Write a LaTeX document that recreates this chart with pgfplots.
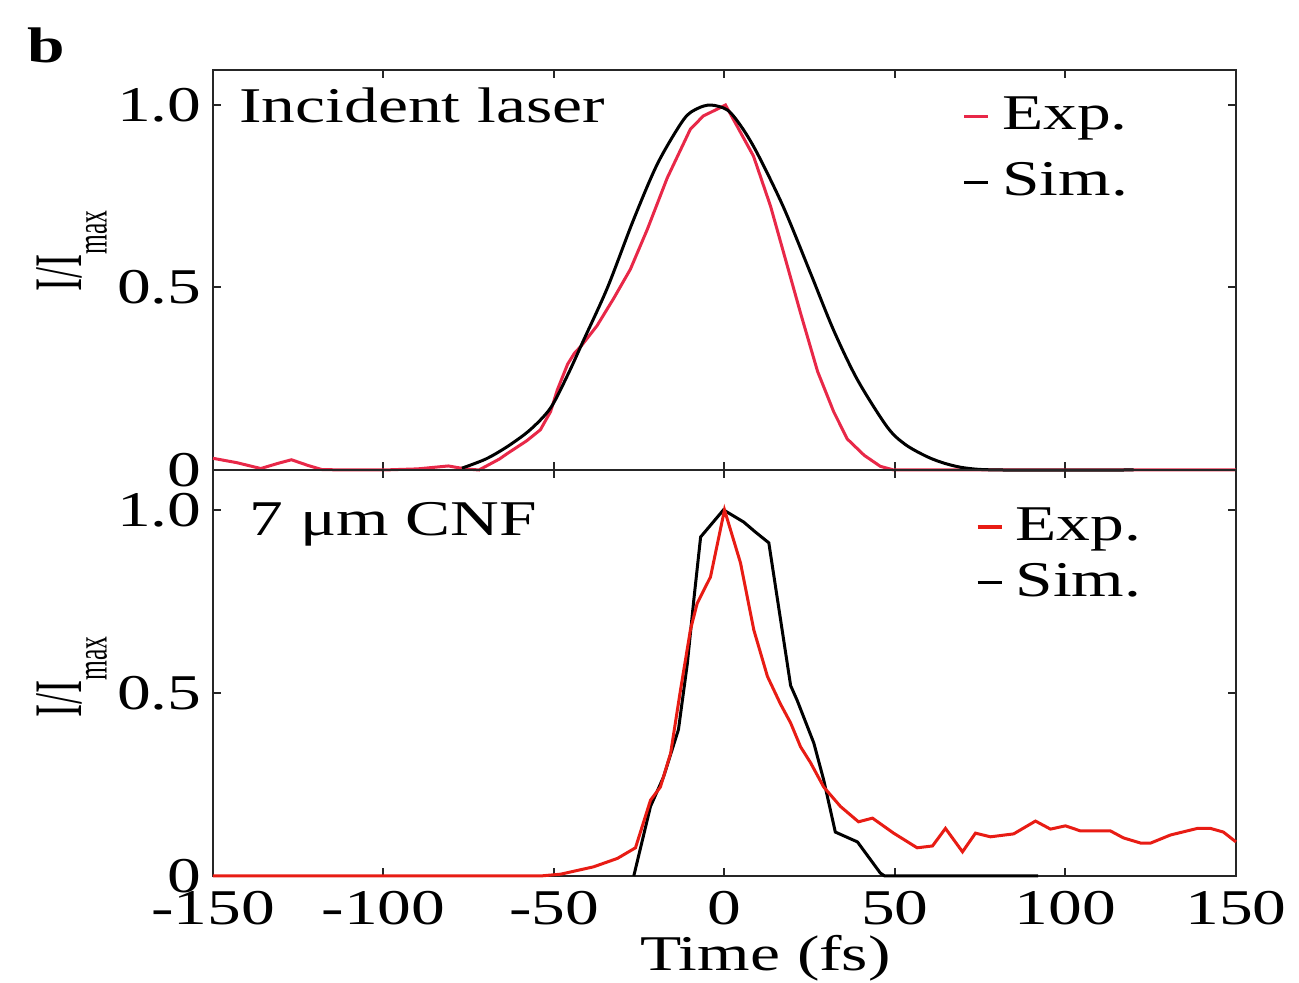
\documentclass[border=0pt]{standalone}
\usepackage{fontspec}
\setmainfont[FakeStretch=1.35]{Liberation Serif}
\newfontfamily\ylfont[FakeStretch=0.58]{Liberation Serif}
\usepackage{pgfplots}
\pgfplotsset{compat=1.18}
\definecolor{expA}{RGB}{232,40,72}
\definecolor{expB}{RGB}{232,28,20}
\newcommand{\lblfont}{\fontsize{12.5}{14}\selectfont}
\newcommand{\ylab}{{\ylfont\fontsize{17}{18}\selectfont I/I}\raisebox{-6.25pt}{\ylfont\fontsize{11}{12}\selectfont max}}
\begin{document}
\begin{tikzpicture}
\useasboundingbox (0,0) rectangle (324.75pt,245.75pt);
\pgfplotsset{
  common/.style={
    scale only axis, width=255.75pt,
    xmin=-150, xmax=150, ymin=0,
    xtick={-150,-100,-50,0,50,100,150},
    ytick={0,0.5,1}, yticklabels={0,0.5,1.0},
    tick align=inside, major tick length=2pt,
    axis line style={line width=0.6pt, black!85},
    every tick/.style={black!85, line width=0.5pt},
    tick label style={font=\lblfont, inner sep=0.5pt},
    yticklabel style={xshift=-2.2pt},
    xticklabel style={yshift=-3.2pt},
    label style={font=\lblfont},
    /pgf/number format/assume math mode=true,
    clip=false,
    legend style={draw=none, fill=none, font=\lblfont, inner sep=0pt,
      nodes={inner sep=0.6pt}},
    legend cell align=left,
    legend image code/.code={\draw[##1, line width=0.8pt] (0pt,0pt) -- (6pt,0pt);},
  }
}
% ---------------- top panel ----------------
\begin{axis}[common, at={(53.25pt,128.25pt)}, anchor=south west,
  height=100pt, ymax=1.096, xticklabels={},
  ylabel={\ylab},
  ylabel style={at={(axis description cs:-0.138,0.5475)}, anchor=center, inner sep=0pt},
  legend style={at={(axis description cs:0.732,0.94)}, anchor=north west,
    row sep=5.5pt, column sep=2.5pt}]
\addplot[expA, line width=0.75pt] coordinates {
(-150,0.032) (-143,0.02) (-136,0.004) (-131,0.018) (-127,0.028) (-122,0.012)
(-118,0.001) (-110,0.0) (-100,0.0) (-90,0.003) (-81,0.011) (-76,0.003)
(-72,0.0) (-70,0.01) (-66,0.03) (-63.7,0.045) (-58,0.08) (-54,0.11)
(-51,0.16) (-49,0.22) (-46,0.29) (-44,0.32) (-42,0.34) (-37.4,0.395)
(-32.5,0.47) (-27.6,0.55) (-22.6,0.66) (-16.8,0.80) (-10,0.934) (-6.2,0.97)
(0.3,1.0) (8.5,0.86) (13.5,0.723) (18.4,0.56) (22.3,0.43) (27.3,0.27)
(32,0.16) (36,0.085) (41,0.04) (45.7,0.01) (49.6,0) (150,0)
};
\addplot[black, line width=0.75pt, smooth, tension=0.5] coordinates {
(-77,0.005) (-70,0.03) (-63.7,0.064) (-57,0.11) (-51,0.17) (-46,0.26)
(-41.3,0.356) (-34.3,0.50) (-26.7,0.685) (-19.6,0.84) (-12,0.96) (-8,0.99)
(-4,1.0) (0.9,0.986) (5,0.94) (9.6,0.868) (17.3,0.72) (25.2,0.54)
(32,0.383) (39,0.247) (47.7,0.118) (53,0.07) (59.5,0.036) (65,0.017)
(71,0.005) (81,0) (120,0)
};
\legend{Exp.,Sim.}
\node[anchor=west, font=\lblfont] at (axis description cs:0.012,0.9125) {Incident laser};
\end{axis}
% ---------------- bottom panel ----------------
\begin{axis}[common, at={(53.25pt,26.75pt)}, anchor=south west,
  height=101.5pt, ymax=1.109,
  xticklabels={-150,-100,-50,0,50,100,150},
  xlabel={Time (fs)},
  xlabel style={at={(axis description cs:0.54,0)}, anchor=center, yshift=-20.5pt},
  ylabel={\ylab},
  ylabel style={at={(axis description cs:-0.138,0.49)}, anchor=center, inner sep=0pt},
  legend style={at={(axis description cs:0.745,0.915)}, anchor=north west,
    row sep=3pt, column sep=2.5pt}]
\addlegendimage{expB}
\addlegendimage{black}
\addplot[black, line width=0.75pt, forget plot] coordinates {
(-26.6,0) (-21.7,0.19) (-17.9,0.27) (-13.5,0.40) (-10.9,0.58) (-9,0.754)
(-7.0,0.926) (-0.3,1.0) (5.6,0.967) (9,0.94) (13,0.91) (19.4,0.52)
(21.3,0.48) (26.2,0.363) (29.1,0.262) (32.5,0.12) (39,0.093) (45.7,0.008)
(47,0) (92,0)
};
\addplot[expB, line width=0.75pt, forget plot] coordinates {
(-150,0) (-54,0) (-48,0.005) (-38.4,0.025) (-31.4,0.048) (-26.1,0.077)
(-21.7,0.207) (-18.8,0.243) (-15.8,0.335) (-12.9,0.508) (-10,0.672) (-8,0.745)
(-4.1,0.817) (0,1.0) (4.7,0.855) (8.6,0.672) (12.6,0.545) (16.4,0.47)
(19.4,0.418) (22.3,0.353) (25.2,0.31) (29.1,0.243) (34,0.19) (39.3,0.148)
(43.4,0.158) (49.6,0.117) (56.5,0.077) (61,0.082) (64.8,0.13) (69.8,0.066)
(73.6,0.117) (78,0.107) (84.8,0.115) (91.2,0.15) (95.6,0.128) (100,0.137)
(104.4,0.123) (113.2,0.123) (117,0.104) (122,0.09) (125,0.09) (130.8,0.112)
(138.7,0.13) (142.5,0.13) (146.3,0.12) (150,0.093)
};
\legend{Exp.,Sim.}
\node[anchor=west, font=\lblfont] at (axis description cs:0.022,0.865) {7 μm CNF};
\end{axis}
\node[font=\bfseries\lblfont] at (11.5pt,234.5pt) {b};
\end{tikzpicture}
\end{document}
